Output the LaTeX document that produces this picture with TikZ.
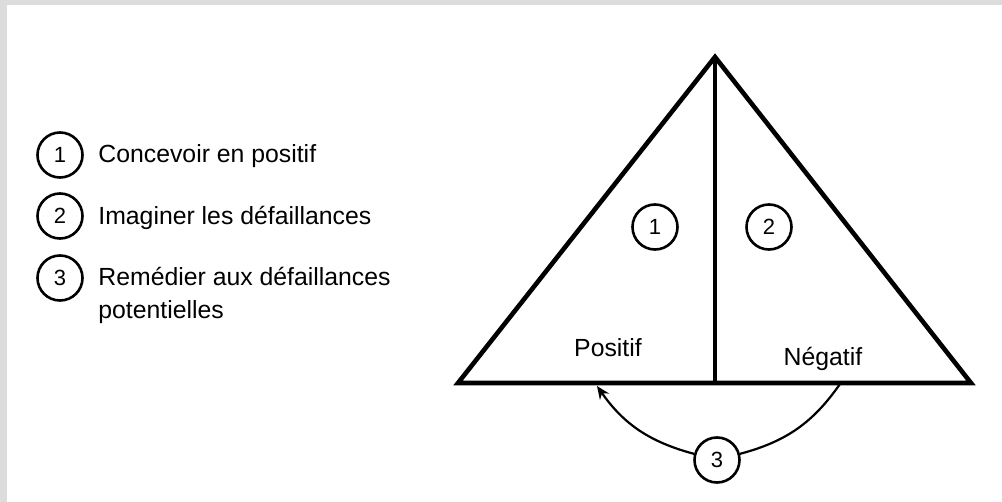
\documentclass[tikz,border=0pt]{standalone}
\usepackage{fontspec}
\setmainfont{Liberation Sans}
\usepackage{xcolor}
\usepackage{tikz}
\usetikzlibrary{arrows.meta}
\definecolor{edge}{RGB}{220,220,220}

\begin{document}
\begin{tikzpicture}[x=0.5pt, y=-0.5pt, >={Stealth[length=6.5pt, width=5.5pt]},
    num/.style={circle, draw, line width=1.3pt, minimum size=22.5pt, inner sep=0pt,
                font=\fontsize{11}{12}\selectfont},
    txt/.style={inner sep=0pt, align=left, font=\fontsize{12.4}{16.5}\selectfont}]
\useasboundingbox (0,0) rectangle (1002,502);
\fill[white] (0,0) rectangle (1002,502);
\fill[edge] (0,0) rectangle (1002,5);
\fill[edge] (0,0) rectangle (7,502);
% legend
\foreach \i/\y in {1/155, 2/216, 3/278}{
    \node[num] (k\i) at (60,\y) {\i};
}
\node[txt, anchor=base west] (t1) at (98,163) {Concevoir en positif};
\node[txt, anchor=base west] (t2) at (98,225) {Imaginer les défaillances};
\node[txt, anchor=base west] (t3) at (98,319) {Remédier aux défaillances\\potentielles};
% triangle
\coordinate (T) at (715,57);
\coordinate (L) at (458,383);
\coordinate (R) at (971,383);
\coordinate (F) at (715,383);
\draw[line width=2.3pt] (L) -- (T) -- (R) -- cycle;
\draw[line width=2.1pt] (T) -- (F);
\node[num] (n1) at (655,227) {1};
\node[num] (n2) at (769,227) {2};
\node[txt, anchor=base] (pos) at (608,357) {Positif};
\node[txt, anchor=base] (neg) at (823,365) {Négatif};
% loop back
\coordinate (A1) at (840,384);
\coordinate (A2) at (597,386);
\node[num] (n3) at (717,460) {3};
\draw[line width=1.1pt] (A1) to[out=-125, in=15] (n3);
\draw[->, line width=1.1pt] (n3) to[out=165, in=-55] (A2);
\end{tikzpicture}
\end{document}
